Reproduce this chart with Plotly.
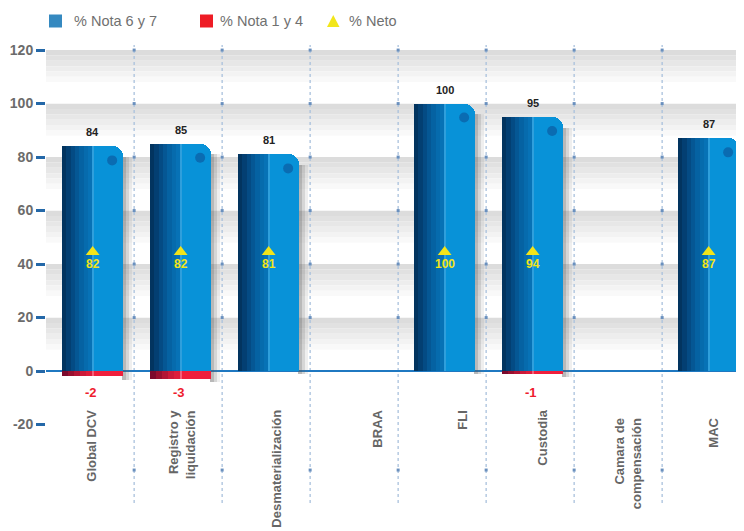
import plotly.graph_objects as go

# ---------------- data ----------------
categories = ["Global DCV", "Registro y<br>liquidación", "Desmaterialización", "BRAA",
              "FLI", "Custodia", "Camara de<br>compensación", "MAC"]
nota67 = [84, 85, 81, None, 100, 95, None, 87]
nota14 = [-2, -3, None, None, None, -1, None, None]
neto = [82, 82, 81, None, 100, 94, None, 87]
ytick_vals = [-20, 0, 20, 40, 60, 80, 100, 120]
legend_names = ["% Nota 6 y 7", "% Nota 1 y 4", "% Neto"]

# ---------------- geometry / style ----------------
OFF = 8  # page body margin
W, H = 744 - OFF, 531 - OFF
ML, MT = 46 - OFF, 45 - OFF
XPX = 88.0
YPX = 2.675
X_RANGE = [-0.53, -0.53 + (W - ML) / XPX]
Y_RANGE = [121.9 - (H - MT) / YPX, 121.9]
FONT = "Liberation Sans, Arial, sans-serif"
HALF = 30.5  # bar half width in px

# label pixel shifts (dx, dy) for category labels
label_shift = [(-2, 0), (1, 0), (7, 0), (20, 0), (17, 0), (9, 0), (7, -8), (4, -8)]

fig = go.Figure()


def px2px(px):
    return (px - OFF - ML) / (W - ML)


def py2py(py):
    return (H - (py - OFF)) / (H - MT)


def add_strip(vals, x0, x1, color, base=None, corner=0):
    xs, ys = [], []
    for i, v in enumerate(vals):
        if v is None:
            continue
        xs.append(i)
        ys.append(v)
    fig.add_bar(x=xs, y=ys, width=(x1 - x0) / XPX, offset=x0 / XPX, base=base,
                marker=dict(color=color, line=dict(width=0), cornerradius=corner),
                showlegend=False, hoverinfo="skip")


# shadows
low = [min(r, 0) if r is not None else 0 for r in nota14]
for x0, x1, col in [(HALF - 1, HALF + 9, "rgba(120,120,120,0.12)"),
                    (HALF - 1, HALF + 6, "rgba(100,100,100,0.18)"),
                    (HALF - 1, HALF + 3, "rgba(80,80,80,0.22)")]:
    xs, ys, bs = [], [], []
    for i, v in enumerate(nota67):
        if v is None:
            continue
        xs.append(i)
        bs.append(low[i] - 1.2)
        ys.append(v - 4 - (low[i] - 1.2))
    fig.add_bar(x=xs, y=ys, base=bs, width=(x1 - x0) / XPX, offset=x0 / XPX,
                marker=dict(color=col, line=dict(width=0)), showlegend=False, hoverinfo="skip")

# red bars (gradient strips)
red_left = ["#7c0a2c", "#98102f", "#b31535", "#cc1a39", "#de1d3b"]
sw = HALF / len(red_left)
for k, c in enumerate(red_left):
    add_strip(nota14, -HALF + k * sw - 0.3, -HALF + (k + 1) * sw + 0.3, c)
add_strip(nota14, 0, HALF, "#ef1f3c")
add_strip(nota14, -0.6, 0.6, "#f4607a")

# blue bars (gradient strips)
blue_left = ["#02345f", "#033f72", "#044b84", "#055794", "#0562a2", "#066bad", "#0772b6"]
add_strip(nota67, 0, HALF, "#0892d8", corner=10)
add_strip(nota67, -0.3, HALF - 12, "#0892d8")
sw = HALF / len(blue_left)
for k, c in enumerate(blue_left):
    add_strip(nota67, -HALF + k * sw - 0.3, -HALF + (k + 1) * sw + 0.3, c)
add_strip(nota67, -0.5, 0.5, "#2f9fdc")

# dot near top-right corner
dx_, dy_ = [], []
for i, v in enumerate(nota67):
    if v is not None:
        dx_.append(i + 19.5 / XPX)
        dy_.append(v - 14 / YPX)
fig.add_scatter(x=dx_, y=dy_, mode="markers",
                marker=dict(size=10, color="#0a6cb2", line=dict(width=0)),
                showlegend=False, hoverinfo="skip")

# neto triangles (fixed height)
nx = [i for i, v in enumerate(neto) if v is not None]
fig.add_scatter(x=nx, y=[44.5] * len(nx), mode="markers",
                marker=dict(symbol="triangle-up", size=12, color="#f2e41a", line=dict(width=0)),
                showlegend=False, hoverinfo="skip")

# separators
sep_x = [i + 0.5 - 2.5 / XPX for i in range(len(categories) - 1)]
shapes = []
# background bands with gradient
for k in range(6):
    y_top = 20 * (k + 1)
    n = 10
    for j in range(n):
        t = min(1.0, j / 6.0)
        c = int(220 + (255 - 220) * t)
        shapes.append(dict(type="rect", xref="paper", yref="y", x0=0, x1=1,
                           y0=y_top - (j + 1) * 2, y1=y_top - j * 2,
                           fillcolor=f"rgb({c},{c},{c})", line=dict(width=0), layer="below"))
for sx in sep_x:
    shapes.append(dict(type="line", xref="x", yref="y", x0=sx, x1=sx, y0=-49.3, y1=121.9,
                       line=dict(color="#a9c1dd", width=1.3, dash="dot"), layer="below"))
# separator tick squares
sqx, sqy = [], []
for sx in sep_x:
    for yv in ytick_vals[2:] + [-37]:
        sqx.append(sx)
        sqy.append(yv)
fig.add_scatter(x=sqx, y=sqy, mode="markers",
                marker=dict(symbol="square", size=3, color="#6a90be", line=dict(width=0)),
                showlegend=False, hoverinfo="skip")

annotations = []
# value labels
for i, v in enumerate(nota67):
    if v is not None:
        annotations.append(dict(x=i, y=v, xref="x", yref="y", text=str(v), showarrow=False,
                                yshift=14, font=dict(family=FONT, size=11, color="#222222", weight="bold")))
for i, v in enumerate(nota14):
    if v is not None:
        annotations.append(dict(x=i, y=-7.9, xref="x", yref="y", text=str(v), showarrow=False,
                                xshift=-2, font=dict(family=FONT, size=13, color="#ee1c2e", weight="bold")))
for i, v in enumerate(neto):
    if v is not None:
        annotations.append(dict(x=i, y=40, xref="x", yref="y", text=str(v), showarrow=False,
                                font=dict(family=FONT, size=12, color="#f2e41a", weight="bold")))
# category labels
for i, c in enumerate(categories):
    dxs, dys = label_shift[i]
    annotations.append(dict(x=i, y=-13.8, xref="x", yref="y", text=c, showarrow=False,
                            textangle=-90, xanchor="center", yanchor="top", align="right",
                            xshift=dxs, yshift=dys,
                            font=dict(family=FONT, size=13, color="#666666", weight="bold")))

# custom legend
leg_items = [(49, 72, "#3589c0", "sq"), (200, 218, "#ee1c25", "sq"), (327, 347, "#f2e61a", "tri")]
for (sx0, tx, col, kind), name in zip(leg_items, legend_names):
    if kind == "sq":
        shapes.append(dict(type="rect", xref="paper", yref="paper",
                           x0=px2px(sx0), x1=px2px(sx0 + 13), y0=py2py(27.5), y1=py2py(14.5),
                           fillcolor=col, line=dict(width=0)))
    else:
        p = (f"M {px2px(sx0)} {py2py(27)} L {px2px(sx0 + 12.5)} {py2py(27)} "
             f"L {px2px(sx0 + 6.25)} {py2py(15)} Z")
        shapes.append(dict(type="path", xref="paper", yref="paper", path=p,
                           fillcolor=col, line=dict(width=0)))
    annotations.append(dict(x=px2px(tx), y=py2py(21), xref="paper", yref="paper", text=name,
                            showarrow=False, xanchor="left", yanchor="middle",
                            font=dict(family=FONT, size=14.5, color="#707070")))

fig.update_layout(
    width=W, height=H,
    margin=dict(l=ML, r=0, t=MT, b=0, pad=0, autoexpand=False),
    paper_bgcolor="white", plot_bgcolor="white",
    barmode="overlay", bargap=0,
    showlegend=False, hovermode=False,
    shapes=shapes, annotations=annotations,
    xaxis=dict(range=X_RANGE, visible=False, fixedrange=True, automargin=False),
    yaxis=dict(range=Y_RANGE, tickvals=ytick_vals, ticktext=[str(v) for v in ytick_vals],
               showgrid=False, zeroline=True, zerolinecolor="#1f78c1", zerolinewidth=1.5,
               ticks="outside", ticklen=9, tickwidth=2.5, tickcolor="#2468a8",
               tickfont=dict(family=FONT, size=14, color="#6b6b6b", weight="bold"),
               showline=False, fixedrange=True, automargin=False),
)

fig.write_html("out.html")
